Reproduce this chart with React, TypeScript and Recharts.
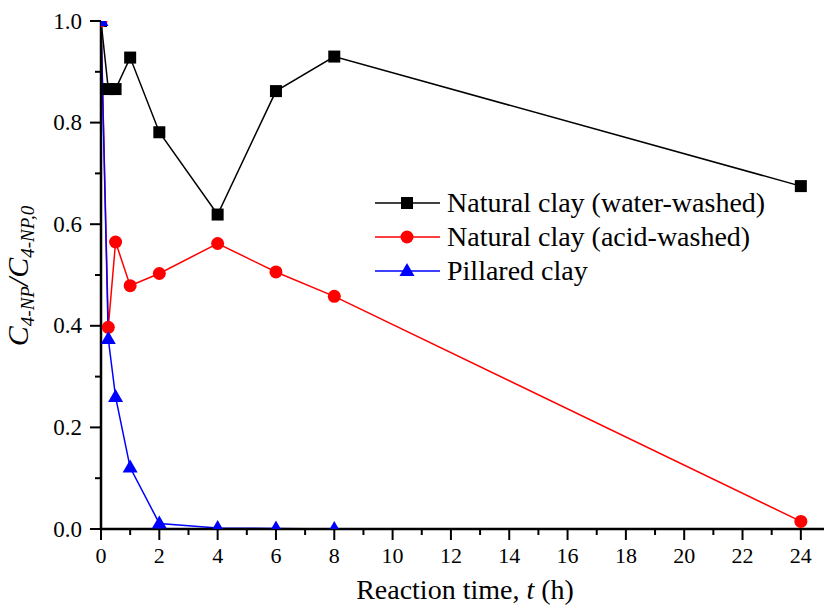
import React from 'react';
import { LineChart, Line, XAxis, YAxis, Legend } from 'recharts';

const times = [0, 0.25, 0.5, 1, 2, 4, 6, 8, 24];
const waterWashed = [1.0, 0.866, 0.866, 0.928, 0.781, 0.619, 0.862, 0.93, 0.675];
const acidWashed = [1.0, 0.397, 0.565, 0.479, 0.503, 0.562, 0.506, 0.458, 0.015];
const pillared: (number | null)[] = [1.0, 0.374, 0.26, 0.121, 0.011, 0.002, 0.001, 0.0, null];

const seriesNames = ['Natural clay (water-washed)', 'Natural clay (acid-washed)', 'Pillared clay'];
const seriesColors = ['#000000', '#ff0000', '#0000ff'];
const seriesShapes = ['square', 'circle', 'triangle'];

const xTicks = [0, 1, 2, 3, 4, 5, 6, 7, 8, 9, 10, 11, 12, 13, 14, 15, 16, 17, 18, 19, 20, 21, 22, 23, 24];
const yTicks = [0, 0.1, 0.2, 0.3, 0.4, 0.5, 0.6, 0.7, 0.8, 0.9, 1.0];

const data = times.map((t, i) => ({
  t,
  water: waterWashed[i],
  acid: acidWashed[i],
  pillared: pillared[i],
}));

const FONT = "'Liberation Serif', 'DejaVu Serif', serif";
const AXIS_W = 2.5;

const isMajorX = (v: number) => Math.round(v) % 2 === 0;
const isMajorY = (v: number) => Math.round(v * 10) % 2 === 0;

const txt = (size: number, extra: any = {}) => ({ fontFamily: FONT, fontSize: size, ...extra });

const BottomTick = (props: any) => {
  const { x, y, payload } = props;
  const v = payload.value;
  const major = isMajorX(v);
  return (
    <g>
      <line x1={x} x2={x} y1={y} y2={y + (major ? 11 : 6)} stroke="#000" strokeWidth={2} />
      {major && (
        <text x={x} y={y + 34} textAnchor="middle" style={txt(22)} fill="#000">
          {v}
        </text>
      )}
    </g>
  );
};

const TopTick = (props: any) => {
  const { x, y, payload } = props;
  const major = isMajorX(payload.value);
  return <line x1={x} x2={x} y1={y} y2={y + (major ? 11 : 6)} stroke="#000" strokeWidth={2} />;
};

const LeftTick = (props: any) => {
  const { x, y, payload } = props;
  const v = payload.value;
  const major = isMajorY(v);
  return (
    <g>
      <line x1={x - (major ? 11 : 6)} x2={x} y1={y} y2={y} stroke="#000" strokeWidth={2} />
      {major && (
        <text x={x - 19} y={y + 7.5} textAnchor="end" style={txt(23)} fill="#000">
          {v.toFixed(1)}
        </text>
      )}
    </g>
  );
};

const RightTick = (props: any) => {
  const { x, y, payload } = props;
  const major = isMajorY(payload.value);
  return <line x1={x - (major ? 11 : 6)} x2={x} y1={y} y2={y} stroke="#000" strokeWidth={2} />;
};

const Marker = ({ shape, cx, cy, color }: any) => {
  if (cx == null || cy == null || isNaN(cx) || isNaN(cy)) return <g />;
  if (shape === 'square') return <rect x={cx - 6} y={cy - 6} width={12} height={12} fill={color} />;
  if (shape === 'circle') return <circle cx={cx} cy={cy} r={6.5} fill={color} />;
  return <polygon points={`${cx},${cy - 8} ${cx - 7.5},${cy + 5} ${cx + 7.5},${cy + 5}`} fill={color} />;
};

const makeDot = (shape: string, color: string) => (p: any) => (
  <Marker key={`${shape}-${p.index}`} shape={shape} cx={p.cx} cy={p.cy} color={color} />
);

const LegendContent = () => (
  <svg width={440} height={110} style={{ display: 'block' }}>
    {seriesNames.map((name, i) => {
      const cy = 18 + i * 34;
      return (
        <g key={name}>
          <line x1={5} x2={70} y1={cy} y2={cy} stroke={seriesColors[i]} strokeWidth={1.5} />
          <Marker shape={seriesShapes[i]} cx={37} cy={cy} color={seriesColors[i]} />
          <text x={77} y={cy + 9} style={txt(28)} fill="#000">
            {name}
          </text>
        </g>
      );
    })}
  </svg>
);

const YLabel = () => (
  <text
    transform="translate(28,276) rotate(-90)"
    textAnchor="middle"
    style={txt(30, { fontStyle: 'italic' })}
    fill="#000"
  >
    <tspan>C</tspan>
    <tspan fontSize={19} dy={6}>4-NP</tspan>
    <tspan fontSize={30} dy={-6}>/C</tspan>
    <tspan fontSize={19} dy={6}>4-NP,0</tspan>
  </text>
);

const XLabel = () => (
  <text x={465} y={599} textAnchor="middle" style={txt(28)} fill="#000">
    <tspan>Reaction time, </tspan>
    <tspan fontStyle="italic">t</tspan>
    <tspan> (h)</tspan>
  </text>
);

export default function App() {
  return (
    <div style={{ position: 'absolute', left: 0, top: 0, width: 824, height: 610, overflow: 'hidden', background: '#fff', fontFamily: FONT }}>
      <LineChart width={840} height={610} data={data} margin={{ top: 21, right: 10, bottom: 0, left: 0 }} style={{ fontFamily: FONT }}>
        <XAxis
          xAxisId="bottom"
          dataKey="t"
          type="number"
          domain={[0, 25]}
          allowDataOverflow
          ticks={xTicks}
          interval={0}
          orientation="bottom"
          height={81}
          tickSize={0}
          tickMargin={0}
          tickLine={false}
          tick={<BottomTick />}
          axisLine={{ stroke: '#000', strokeWidth: AXIS_W }}
          label={<XLabel />}
        />
        <XAxis
          xAxisId="top"
          dataKey="t"
          type="number"
          domain={[0, 25]}
          allowDataOverflow
          ticks={xTicks}
          interval={0}
          orientation="top"
          height={0}
          tickSize={0}
          tickMargin={0}
          tickLine={false}
          tick={<TopTick />}
          axisLine={{ stroke: '#000', strokeWidth: AXIS_W }}
        />
        <YAxis
          yAxisId="left"
          type="number"
          domain={[0, 1]}
          allowDataOverflow
          ticks={yTicks}
          interval={0}
          orientation="left"
          width={101}
          tickSize={0}
          tickMargin={0}
          tickLine={false}
          tick={<LeftTick />}
          axisLine={{ stroke: '#000', strokeWidth: AXIS_W }}
          label={<YLabel />}
        />
        <YAxis
          yAxisId="right"
          type="number"
          domain={[0, 1]}
          allowDataOverflow
          ticks={yTicks}
          interval={0}
          orientation="right"
          width={0}
          tickSize={0}
          tickMargin={0}
          tickLine={false}
          tick={<RightTick />}
          axisLine={{ stroke: '#000', strokeWidth: AXIS_W }}
        />
        <Legend
          layout="vertical"
          align="center"
          verticalAlign="middle"
          wrapperStyle={{ position: 'absolute', left: 370, top: 185, width: 440, height: 110 }}
          content={<LegendContent />}
        />
        <Line
          xAxisId="bottom"
          yAxisId="left"
          dataKey="water"
          name={seriesNames[0]}
          stroke={seriesColors[0]}
          strokeWidth={1.5}
          dot={makeDot('square', seriesColors[0])}
          activeDot={false}
          isAnimationActive={false}
        />
        <Line
          xAxisId="bottom"
          yAxisId="left"
          dataKey="acid"
          name={seriesNames[1]}
          stroke={seriesColors[1]}
          strokeWidth={1.5}
          dot={makeDot('circle', seriesColors[1])}
          activeDot={false}
          isAnimationActive={false}
        />
        <Line
          xAxisId="bottom"
          yAxisId="left"
          dataKey="pillared"
          name={seriesNames[2]}
          stroke={seriesColors[2]}
          strokeWidth={1.5}
          dot={makeDot('triangle', seriesColors[2])}
          activeDot={false}
          isAnimationActive={false}
        />
      </LineChart>
    </div>
  );
}
